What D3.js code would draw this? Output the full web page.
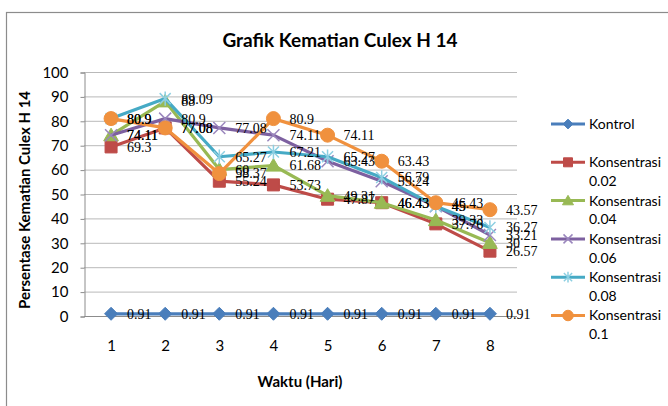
<!DOCTYPE html>
<html lang="id">
<head>
    <meta charset="UTF-8" />
    <title>Grafik Kematian Culex H 14</title>
    <style>
        body, html {
            margin: 0;
            padding: 0;
            overflow: hidden;
            background: #fff;
        }
        svg {
            display: block;
        }
        .axis-text {
            font-family: Lato, "Open Sans", sans-serif;
            font-size: 15px;
            fill: #000;
        }
        .data-label {
            font-family: "Liberation Serif", "DejaVu Serif", serif;
            font-size: 14px;
            fill: #000;
        }
    </style>
</head>
<body>
<svg width="668" height="406"></svg>

<script src="https://d3js.org/d3.v7.min.js"></script>
<script>
    // data
    const days = [1, 2, 3, 4, 5, 6, 7, 8];
    const seriesNames = ["Kontrol", "Konsentrasi 0.02", "Konsentrasi 0.04",
                         "Konsentrasi 0.06", "Konsentrasi 0.08", "Konsentrasi 0.1"];
    const kontrol = [0.91, 0.91, 0.91, 0.91, 0.91, 0.91, 0.91, 0.91];
    const konsentrasi002 = [69.3, 77.08, 55.24, 53.73, 47.87, 46.43, 37.76, 26.57];
    const konsentrasi004 = [74.11, 88, 60, 61.68, 49.31, 46.43, 39.33, 30];
    const konsentrasi006 = [74.11, 80.9, 77.08, 74.11, 63.43, 55.24, 45, 33.21];
    const konsentrasi008 = [80.9, 89.09, 65.27, 67.21, 65.27, 56.79, 45, 36.27];
    const konsentrasi01 = [80.9, 77.08, 58.37, 80.9, 74.11, 63.43, 46.43, 43.57];
    const yTicks = [0, 10, 20, 30, 40, 50, 60, 70, 80, 90, 100];

    const allValues = [kontrol, konsentrasi002, konsentrasi004, konsentrasi006, konsentrasi008, konsentrasi01];

    // styles
    const colors = ["#4A7EBB", "#BE4B48", "#98B954", "#7D60A0", "#46AAC5", "#F0913E"];
    const markerStroke = ["#4A7EBB", "#BE4B48", "#98B954", "#9A86BD", "#8DCFE2", "#F0913E"];

    // custom marker shapes (like the Excel ones)
    const shapes = {
        diamond: {draw(ctx, r) { ctx.moveTo(0, -r); ctx.lineTo(r, 0); ctx.lineTo(0, r); ctx.lineTo(-r, 0); ctx.closePath(); }},
        square: {draw(ctx, r) { ctx.rect(-r, -r, 2 * r, 2 * r); }},
        triangle: {draw(ctx, r) { ctx.moveTo(0, -r); ctx.lineTo(r * 1.05, r * 0.8); ctx.lineTo(-r * 1.05, r * 0.8); ctx.closePath(); }},
        cross: {draw(ctx, r) { ctx.moveTo(-r, -r); ctx.lineTo(r, r); ctx.moveTo(r, -r); ctx.lineTo(-r, r); }},
        star: {draw(ctx, r) { ctx.moveTo(-r, -r); ctx.lineTo(r, r); ctx.moveTo(r, -r); ctx.lineTo(-r, r); ctx.moveTo(0, -r * 1.3); ctx.lineTo(0, r * 1.3); }},
        circle: {draw(ctx, r) { ctx.moveTo(r, 0); ctx.arc(0, 0, r, 0, 2 * Math.PI); }}
    };
    const markerTypes = ["diamond", "square", "triangle", "cross", "star", "circle"];
    const markerSize = [6.5, 6, 7, 6, 5.5, 7];
    const filled = [true, true, true, false, false, true];

    const series = seriesNames.map((name, i) => ({
        name: name,
        values: allValues[i].map((v, j) => ({day: days[j], value: v})),
        color: colors[i],
        stroke: markerStroke[i],
        type: markerTypes[i],
        size: markerSize[i],
        filled: filled[i]
    }));

    const svg = d3.select("svg");

    // chart border (cut off at the right and bottom like the reference)
    svg.append("rect")
        .attr("x", 6.5).attr("y", 12.5)
        .attr("width", 700).attr("height", 420)
        .attr("fill", "#fff")
        .attr("stroke", "#8c8c8c")
        .attr("stroke-width", 1.2);

    const plot = {left: 84, right: 517, top: 72, bottom: 316};

    const x = d3.scalePoint()
        .domain(days)
        .range([plot.left, plot.right])
        .padding(0.5);

    const y = d3.scaleLinear()
        .domain([0, 100])
        .range([plot.bottom, plot.top]);

    // gridlines
    svg.append("g")
        .selectAll("line")
        .data(yTicks.filter(t => t > 0))
        .join("line")
        .attr("x1", plot.left).attr("x2", plot.right)
        .attr("y1", d => y(d) + 0.5).attr("y2", d => y(d) + 0.5)
        .attr("stroke", "#b9b9b9")
        .attr("stroke-width", 1);

    // y axis
    const yAxis = svg.append("g")
        .attr("transform", `translate(${plot.left + 0.5},0.5)`)
        .call(d3.axisLeft(y).tickValues(yTicks).tickSize(4).tickPadding(12));
    yAxis.select(".domain").attr("stroke", "#8c8c8c");
    yAxis.selectAll(".tick line").attr("stroke", "#8c8c8c");
    yAxis.selectAll(".tick text")
        .attr("class", "axis-text")
        .attr("font-family", null).attr("font-size", null);

    // x axis
    const xAxis = svg.append("g")
        .attr("transform", `translate(0,${plot.bottom + 0.5})`)
        .call(d3.axisBottom(x).tickSize(0).tickPadding(24));
    xAxis.select(".domain")
        .attr("stroke", "#8c8c8c")
        .attr("d", `M${plot.left},0H${plot.right}`);
    xAxis.selectAll(".tick text")
        .attr("class", "axis-text")
        .attr("font-family", null).attr("font-size", null);

    // lines
    const line = d3.line()
        .x(d => x(d.day))
        .y(d => y(d.value));

    const marker = d3.symbol();

    const seriesG = svg.append("g")
        .selectAll("g")
        .data(series)
        .join("g");

    seriesG.append("path")
        .attr("d", d => line(d.values))
        .attr("fill", "none")
        .attr("stroke", d => d.color)
        .attr("stroke-width", 3.2)
        .attr("stroke-linejoin", "round");

    seriesG.each(function (s) {
        d3.select(this).selectAll(".marker")
            .data(s.values)
            .join("path")
            .attr("class", "marker")
            .attr("transform", d => `translate(${x(d.day)},${y(d.value)})`)
            .attr("d", marker.type(shapes[s.type]).size(s.size)())
            .attr("fill", s.filled ? s.color : "none")
            .attr("stroke", s.stroke)
            .attr("stroke-width", s.filled ? 1 : 1.5);
    });

    // data labels on top of everything
    const labelG = svg.append("g");
    series.forEach(s => {
        labelG.selectAll(null)
            .data(s.values)
            .join("text")
            .attr("class", "data-label")
            .attr("x", d => x(d.day) + 16)
            .attr("y", d => y(d.value))
            .attr("dy", "0.35em")
            .text(d => d.value);
    });

    // title
    svg.append("text")
        .attr("x", 340).attr("y", 47)
        .attr("text-anchor", "middle")
        .style("font-family", "Lato, 'Open Sans', sans-serif")
        .style("font-size", "19px")
        .style("font-weight", "bold")
        .text("Grafik Kematian Culex H 14");

    // axis titles
    svg.append("text")
        .attr("transform", "translate(30,200) rotate(-90)")
        .attr("text-anchor", "middle")
        .style("font-family", "Lato, 'Open Sans', sans-serif")
        .style("font-size", "15px")
        .style("font-weight", "bold")
        .text("Persentase Kematian Culex H 14");

    svg.append("text")
        .attr("x", 300).attr("y", 387)
        .attr("text-anchor", "middle")
        .style("font-family", "Lato, 'Open Sans', sans-serif")
        .style("font-size", "15px")
        .style("font-weight", "bold")
        .text("Waktu (Hari)");

    // legend
    const legend = svg.append("g")
        .selectAll("g")
        .data(series)
        .join("g")
        .attr("transform", (d, i) => `translate(551,${124 + i * 38.3})`);

    legend.append("line")
        .attr("x1", 0).attr("x2", 34)
        .attr("stroke", d => d.color)
        .attr("stroke-width", 3);

    legend.append("path")
        .attr("transform", "translate(17,0)")
        .attr("d", d => marker.type(shapes[d.type]).size(d.size * 0.75)())
        .attr("fill", d => d.filled ? d.color : "none")
        .attr("stroke", d => d.stroke)
        .attr("stroke-width", d => d.filled ? 1 : 1.5);

    const legendText = legend.append("text")
        .attr("class", "axis-text")
        .style("font-size", "14px")
        .attr("x", 38)
        .attr("y", 0)
        .attr("dy", "0.35em");

    legendText.each(function (d) {
        const parts = d.name.split(" ");
        const t = d3.select(this);
        t.append("tspan").attr("x", 38).text(parts[0]);
        if (parts[1]) {
            t.append("tspan").attr("x", 38).attr("dy", 19).text(parts[1]);
        }
    });
</script>
</body>
</html>
